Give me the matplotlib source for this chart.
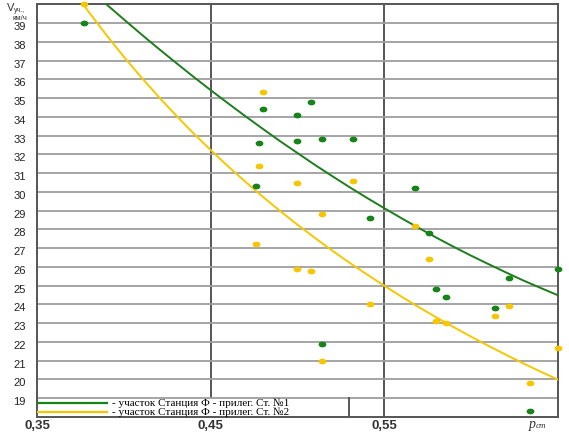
import numpy as np
import matplotlib
matplotlib.use('Agg')
import matplotlib.pyplot as plt
import matplotlib.transforms as mtransforms
from matplotlib.patches import Rectangle

# readings (p_ст, V for both sections)
p_st = [0.377, 0.476, 0.478, 0.480, 0.500, 0.500, 0.508, 0.514, 0.514, 0.532,
        0.542, 0.568, 0.576, 0.580, 0.586, 0.614, 0.622, 0.634, 0.650]
v_green = [39.0, 30.3, 32.6, 34.4, 34.1, 32.7, 34.8, 32.8, 21.9, 32.8,
           28.6, 30.2, 27.8, 24.8, 24.4, 23.8, 25.4, 18.3, 25.9]
v_yellow = [40.0, 27.2, 31.4, 35.3, 30.5, 25.9, 25.8, 28.8, 21.0, 30.6,
            24.0, 28.2, 26.4, 23.1, 23.0, 23.4, 23.9, 19.8, 21.7]

# trend lines, every 0.01
trend_x = [0.37, 0.38, 0.39, 0.40, 0.41, 0.42, 0.43, 0.44, 0.45, 0.46,
           0.47, 0.48, 0.49, 0.50, 0.51, 0.52, 0.53, 0.54, 0.55, 0.56,
           0.57, 0.58, 0.59, 0.60, 0.61, 0.62, 0.63, 0.64, 0.65]
trend_green = [41.65, 40.82, 40.00, 39.20, 38.41, 37.64, 36.89, 36.15, 35.43, 34.73,
               34.04, 33.37, 32.71, 32.08, 31.45, 30.85, 30.26, 29.69, 29.14, 28.60,
               28.08, 27.57, 27.08, 26.61, 26.16, 25.72, 25.29, 24.89, 24.50]
trend_yellow = [40.84, 39.57, 38.36, 37.21, 36.12, 35.08, 34.09, 33.14, 32.24, 31.37,
                30.55, 29.75, 28.99, 28.26, 27.56, 26.88, 26.23, 25.61, 25.01, 24.42,
                23.86, 23.32, 22.80, 22.29, 21.80, 21.33, 20.87, 20.43, 20.00]

y_ticks = list(range(19, 40))
x_ticks = [0.35, 0.45, 0.55]
x_tick_labels = ['0,35', '0,45', '0,55']
legend_labels = ['- участок Станция Ф - прилег. Ст. №1',
                 '- участок Станция Ф - прилег. Ст. №2']

green = '#17841a'
yellow = '#f6c700'
grid_gray = '#9e9e9e'
dark = '#555555'

fig = plt.figure(figsize=(5.69, 4.33), dpi=100)
ax = fig.add_axes([37 / 569, 1 - 417 / 433, 520.5 / 569, 412.7 / 433])
ax.set_xlim(0.35, 0.65)
ax.set_ylim(18, 40)

for y in y_ticks:
    ax.axhline(y, color=grid_gray, lw=1.3, zorder=2.5)
for x in x_ticks[1:]:
    ax.axvline(x, color=dark, lw=1.4, zorder=1)

ax.plot(trend_x, trend_green, color='#1d7d1d', lw=1.4, zorder=3)
ax.plot(trend_x, trend_yellow, color=yellow, lw=1.4, zorder=3)

t = np.linspace(0, 2 * np.pi, 40)
ellipse = list(zip(np.cos(t), 0.68 * np.sin(t)))
ax.plot(p_st, v_green, ls='none', marker=ellipse, ms=4.6, color=green,
        zorder=4, clip_on=False)
ax.plot(p_st, v_yellow, ls='none', marker=ellipse, ms=4.6, color=yellow,
        zorder=4, clip_on=False)

# legend box in lower left corner
box_w = (349 - 37) / 520.5
ax.add_patch(Rectangle((0, 0), box_w, 1 / 22, transform=ax.transAxes,
                       facecolor='white', edgecolor='none', zorder=2))
ax.plot([box_w, box_w], [0, 1 / 22], transform=ax.transAxes, color=dark, lw=1.4, zorder=2.6)
leg_y = [(417 - 403.3) / 412.7, (417 - 412.3) / 412.7]
for yy, col, lab in zip(leg_y, [green, yellow], legend_labels):
    ax.plot([0, 70 / 520.5], [yy, yy], transform=ax.transAxes, color=col, lw=1.6, zorder=3)
    ax.text(75 / 520.5, yy, lab, transform=ax.transAxes, family='Liberation Serif',
            fontsize=8, va='center', ha='left', zorder=3)

for s in ax.spines.values():
    s.set_color(dark)
    s.set_linewidth(1.4)

ax.set_yticks(y_ticks)
ax.set_yticklabels([str(v) for v in y_ticks], family='Liberation Sans', fontsize=8, color='#222222')
ax.set_xticks(x_ticks)
ax.set_xticklabels(x_tick_labels, family='Liberation Sans', fontsize=9.5, fontweight='bold',
                   color='#333333')
ax.tick_params(axis='both', length=0)
ax.tick_params(axis='y', pad=8)
ax.tick_params(axis='x', pad=2)
offset = mtransforms.ScaledTranslation(0, -3 / 100, fig.dpi_scale_trans)
for lab in ax.get_yticklabels():
    lab.set_transform(lab.get_transform() + offset)

# axis titles
fig.text(7 / 569, 1 - 11 / 433, 'V', family='Liberation Sans', fontsize=8, color='#333333')
fig.text(14 / 569, 1 - 12 / 433, 'уч.,', family='Liberation Sans', fontsize=5, color='#333333')
fig.text(20 / 569, 1 - 20 / 433, 'км/ч', family='Liberation Sans', fontsize=5.5,
         color='#333333', ha='center')
fig.text(529 / 569, 1 - 428 / 433, 'p', family='Liberation Serif', style='italic',
         fontsize=10, color='#333333')
fig.text(536 / 569, 1 - 428 / 433, 'ст', family='Liberation Serif', style='italic',
         fontsize=6.5, color='#333333')

fig.savefig('out.png', dpi=100, facecolor='white')
